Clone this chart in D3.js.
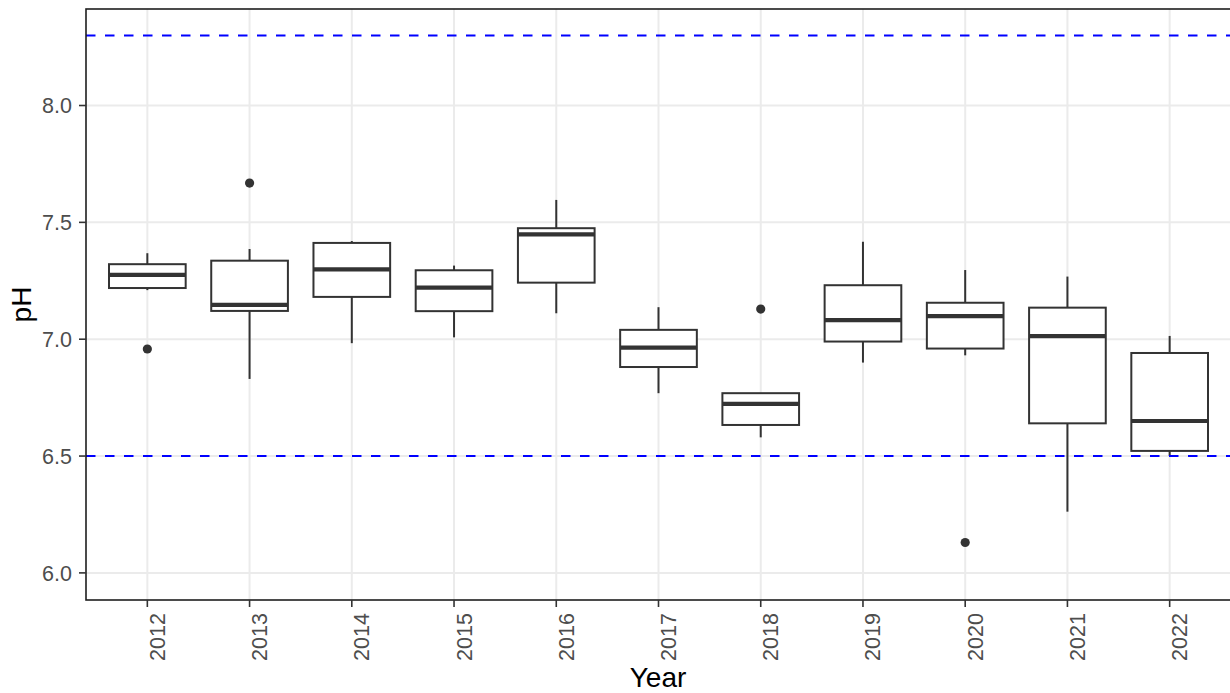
<!DOCTYPE html>
<html>
<head>
<meta charset="utf-8">
<script src="https://cdn.jsdelivr.net/npm/d3@7"></script>
<style>
  html, body { margin: 0; padding: 0; background: #fff; }
  svg { display: block; font-family: "Liberation Sans", Arial, sans-serif; }
</style>
</head>
<body>
<svg id="chart" width="1230" height="693"></svg>
<script>
// pH summary per year (box-and-whisker statistics)
const years       = ["2012","2013","2014","2015","2016","2017","2018","2019","2020","2021","2022"];
const whiskerLow  = [7.210, 6.830, 6.983, 7.008, 7.111, 6.769, 6.580, 6.900, 6.931, 6.262, 6.500];
const lowerQ      = [7.219, 7.121, 7.181, 7.120, 7.242, 6.881, 6.633, 6.990, 6.960, 6.640, 6.522];
const medians     = [7.275, 7.147, 7.299, 7.221, 7.449, 6.964, 6.723, 7.082, 7.099, 7.013, 6.650];
const upperQ      = [7.321, 7.336, 7.412, 7.295, 7.475, 7.040, 6.769, 7.231, 7.156, 7.135, 6.941];
const whiskerHigh = [7.368, 7.386, 7.420, 7.315, 7.596, 7.137, 6.769, 7.417, 7.296, 7.268, 7.014];
const outlierYears  = ["2012", "2013", "2018", "2020"];
const outlierValues = [6.958, 7.668, 7.129, 6.130];

// guideline limits for pH
const limits = [6.5, 8.3];

const yTicks = [6.0, 6.5, 7.0, 7.5, 8.0];
const yDomain = [5.884, 8.413];

const svg = d3.select("#chart");
const panel = { left: 86, right: 1231, top: 9, bottom: 600 };

const x = d3.scalePoint()
  .domain(years)
  .range([panel.left, panel.right])
  .padding(0.6);

const y = d3.scaleLinear()
  .domain(yDomain)
  .range([panel.bottom, panel.top]);

const boxWidth = x.step() * 0.75;
const ink = "#333333";

// gridlines
const grid = svg.append("g");
grid.selectAll("line.h").data(yTicks).join("line")
  .attr("x1", panel.left).attr("x2", panel.right)
  .attr("y1", d => y(d)).attr("y2", d => y(d))
  .attr("stroke", "#EBEBEB").attr("stroke-width", 2);
grid.selectAll("line.v").data(years).join("line")
  .attr("x1", d => x(d)).attr("x2", d => x(d))
  .attr("y1", panel.top).attr("y2", panel.bottom)
  .attr("stroke", "#EBEBEB").attr("stroke-width", 2);

// boxes
const stats = years.map((yr, i) => ({
  yr, lo: whiskerLow[i], q1: lowerQ[i], med: medians[i], q3: upperQ[i], hi: whiskerHigh[i]
}));

const boxes = svg.append("g").selectAll("g").data(stats).join("g");

boxes.append("line")
  .attr("x1", d => x(d.yr)).attr("x2", d => x(d.yr))
  .attr("y1", d => y(d.hi)).attr("y2", d => y(d.q3))
  .attr("stroke", ink).attr("stroke-width", 2);
boxes.append("line")
  .attr("x1", d => x(d.yr)).attr("x2", d => x(d.yr))
  .attr("y1", d => y(d.q1)).attr("y2", d => y(d.lo))
  .attr("stroke", ink).attr("stroke-width", 2);
boxes.append("rect")
  .attr("x", d => x(d.yr) - boxWidth / 2)
  .attr("width", boxWidth)
  .attr("y", d => y(d.q3))
  .attr("height", d => y(d.q1) - y(d.q3))
  .attr("fill", "#fff").attr("stroke", ink).attr("stroke-width", 2);
boxes.append("line")
  .attr("x1", d => x(d.yr) - boxWidth / 2).attr("x2", d => x(d.yr) + boxWidth / 2)
  .attr("y1", d => y(d.med)).attr("y2", d => y(d.med))
  .attr("stroke", ink).attr("stroke-width", 4.2);

// outliers
svg.append("g").selectAll("circle")
  .data(outlierYears.map((yr, i) => ({ yr, v: outlierValues[i] })))
  .join("circle")
  .attr("cx", d => x(d.yr)).attr("cy", d => y(d.v))
  .attr("r", 4.6).attr("fill", ink);

// limit lines
svg.append("g").selectAll("line").data(limits).join("line")
  .attr("x1", panel.left).attr("x2", panel.right)
  .attr("y1", d => y(d)).attr("y2", d => y(d))
  .attr("stroke", "#0000FF").attr("stroke-width", 2)
  .attr("stroke-dasharray", "9.5 9.5");

// panel border
svg.append("rect")
  .attr("x", panel.left).attr("y", panel.top)
  .attr("width", panel.right - panel.left).attr("height", panel.bottom - panel.top)
  .attr("fill", "none").attr("stroke", "#1f1f1f").attr("stroke-width", 1.6);

// y axis
const yAxis = svg.append("g");
yAxis.selectAll("line").data(yTicks).join("line")
  .attr("x1", panel.left - 7).attr("x2", panel.left)
  .attr("y1", d => y(d)).attr("y2", d => y(d))
  .attr("stroke", ink).attr("stroke-width", 1.6);
yAxis.selectAll("text").data(yTicks).join("text")
  .attr("x", panel.left - 14).attr("y", d => y(d))
  .attr("dy", "0.36em")
  .attr("text-anchor", "end")
  .attr("font-size", 21.5).attr("fill", "#4D4D4D")
  .text(d => d3.format(".1f")(d));

// x axis
const xAxis = svg.append("g");
xAxis.selectAll("line").data(years).join("line")
  .attr("x1", d => x(d)).attr("x2", d => x(d))
  .attr("y1", panel.bottom).attr("y2", panel.bottom + 7)
  .attr("stroke", ink).attr("stroke-width", 1.6);
xAxis.selectAll("text").data(years).join("text")
  .attr("transform", d => `translate(${x(d) + 17.5},${panel.bottom + 37}) rotate(-90)`)
  .attr("text-anchor", "middle")
  .attr("font-size", 21.5).attr("fill", "#4D4D4D")
  .text(d => d);

// axis titles
svg.append("text")
  .attr("x", (panel.left + 1230) / 2).attr("y", 687)
  .attr("text-anchor", "middle")
  .attr("font-size", 28).attr("fill", "#000")
  .text("Year");
svg.append("text")
  .attr("transform", `translate(31,${(panel.top + panel.bottom) / 2}) rotate(-90)`)
  .attr("text-anchor", "middle")
  .attr("font-size", 28).attr("fill", "#000")
  .text("pH");
</script>
</body>
</html>
